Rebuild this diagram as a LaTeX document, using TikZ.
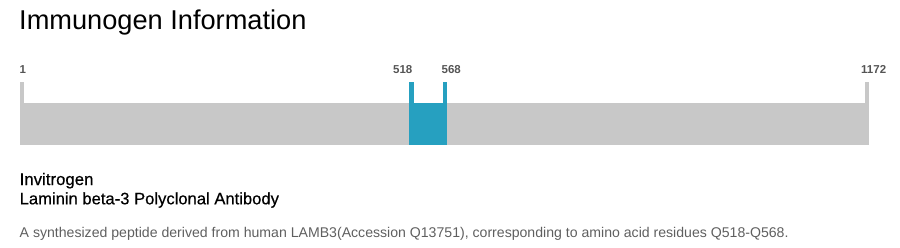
\documentclass[tikz,border=0pt]{standalone}
\usepackage{fontspec}
\setmainfont{Liberation Sans}
\newfontfamily\medfont{Liberation Sans}[FakeBold=0.5]

\definecolor{bargray}{RGB}{200,200,200}
\definecolor{peptide}{RGB}{38,160,192}
\definecolor{ticktext}{RGB}{85,85,85}
\definecolor{desctext}{RGB}{95,95,95}

\begin{document}
\begin{tikzpicture}[x=1pt, y=-1pt,
  ticklabel/.style={font=\fontsize{11.5}{13}\selectfont\bfseries, text=ticktext, inner sep=0pt, anchor=base west},
  textline/.style={inner sep=0pt, anchor=base west}]

\useasboundingbox (0,0) rectangle (900,247);

% Title
\node[textline, font=\fontsize{27.2}{32}\selectfont] (title) at (19,29) {Immunogen Information};

% Sequence bar with end ticks
\fill[bargray] (20,103) rectangle (869,145);
\fill[bargray] (20,82) rectangle (24,103);
\fill[bargray] (865,82) rectangle (869,103);

% Immunogen region 518-568
\fill[peptide] (409.3,103) rectangle (446.7,145);
\fill[peptide] (409.3,82) rectangle (413.5,103);
\fill[peptide] (442.5,82) rectangle (446.7,103);

% Position labels
\node[ticklabel] (first) at (19.5,73.3) {1};
\node[ticklabel, anchor=base east] (start) at (412.5,73.3) {518};
\node[ticklabel] (stop) at (441.5,73.3) {568};
\node[ticklabel] (last) at (861,73.3) {1172};

% Antibody info
\node[textline, font=\medfont\fontsize{16.8}{19}\selectfont] (vendor) at (19.5,185) {Invitrogen};
\node[textline, font=\medfont\fontsize{16.6}{19}\selectfont] (product) at (19.5,204.3) {Laminin beta-3 Polyclonal Antibody};
\node[textline, font=\fontsize{14.1}{16}\selectfont, text=desctext] (desc) at (19.5,237.7)
  {A synthesized peptide derived from human LAMB3(Accession Q13751), corresponding to amino acid residues Q518-Q568.};

\end{tikzpicture}
\end{document}
